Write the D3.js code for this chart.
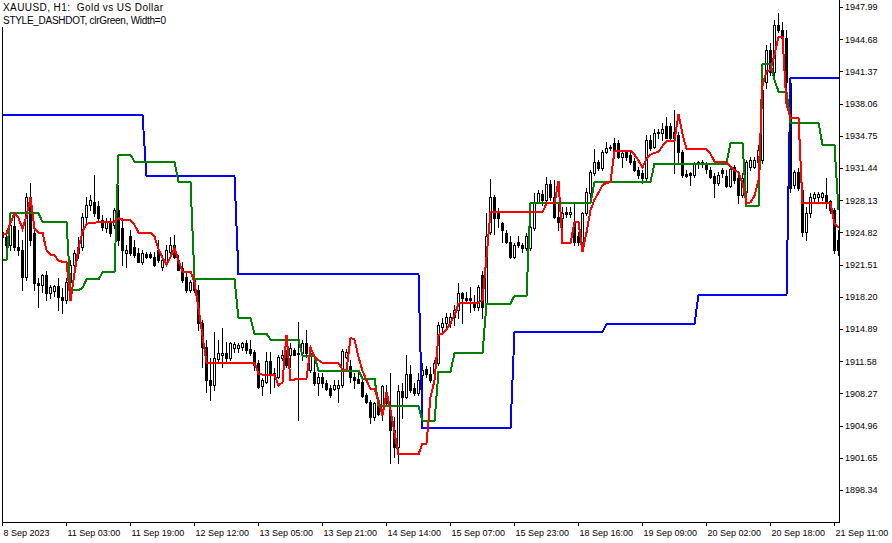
<!DOCTYPE html>
<html><head><meta charset="utf-8">
<script src="https://cdn.jsdelivr.net/npm/d3@7"></script>
<style>html,body{margin:0;padding:0;background:#fff;overflow:hidden}svg{display:block}</style>
</head><body>
<svg id="chart" width="892" height="543"></svg>
<script>
// ---------- data ----------
const titleLines = ["XAUUSD, H1:  Gold vs US Dollar", "STYLE_DASHDOT, clrGreen, Width=0"];
const priceTicks = [1947.99,1944.68,1941.37,1938.06,1934.75,1931.44,1928.13,1924.82,1921.51,1918.20,1914.89,1911.58,1908.27,1904.96,1901.65,1898.34];
const timeTickIndex = [0,16,32,48,64,80,96,112,128,144,160,176,192,208];
const timeTickLabels = ["8 Sep 2023","11 Sep 03:00","11 Sep 19:00","12 Sep 12:00","13 Sep 05:00","13 Sep 21:00","14 Sep 14:00","15 Sep 07:00","15 Sep 23:00","18 Sep 16:00","19 Sep 09:00","20 Sep 02:00","20 Sep 18:00","21 Sep 11:00"];

const open = [
1924.9,1924.3,1923.5,1925.5,1923.3,1923.0,1920.2,1928.5,1924.8,1919.6,
1919.4,1920.4,1918.6,1918.8,1919.3,1918.2,1917.9,1919.7,1921.5,1922.7,
1923.3,1926.4,1927.6,1927.9,1927.5,1926.1,1925.3,1925.9,1925.6,1927.1,
1925.3,1922.7,1924.4,1923.3,1922.7,1921.8,1922.6,1922.6,1922.3,1923.0,
1921.3,1921.8,1922.8,1923.5,1922.0,1921.2,1920.2,1918.9,1919.9,1918.9,
1915.5,1913.0,1909.6,1909.1,1911.8,1912.2,1912.4,1911.9,1912.9,1912.9,
1913.0,1913.4,1912.8,1912.5,1911.4,1909.0,1909.4,1911.6,1910.4,1910.0,
1911.9,1912.0,1912.2,1912.7,1912.4,1912.4,1913.4,1910.7,1910.5,1909.3,
1910.0,1909.3,1908.8,1908.7,1908.8,1909.1,1912.0,1911.1,1910.0,1909.7,
1909.4,1908.1,1907.4,1905.8,1907.3,1906.3,1908.1,1906.6,1904.5,1902.8,
1908.5,1907.9,1910.3,1908.8,1908.3,1910.2,1910.8,1910.3,1910.4,1911.4,
1915.1,1915.5,1915.5,1916.1,1916.8,1918.6,1918.1,1918.1,1917.6,1917.1,
1920.4,1917.6,1924.9,1928.5,1926.9,1925.8,1924.8,1923.8,1922.3,1923.8,
1923.5,1923.2,1923.2,1925.3,1927.9,1928.8,1928.2,1929.8,1928.5,1926.4,
1926.3,1926.9,1926.7,1925.9,1924.5,1923.8,1926.8,1928.9,1930.9,1932.1,
1931.4,1933.1,1933.5,1934.0,1934.0,1932.6,1933.1,1932.8,1932.2,1931.2,
1930.9,1930.4,1934.3,1933.6,1935.0,1935.0,1935.8,1935.8,1935.1,1934.8,
1933.1,1930.8,1930.9,1930.7,1932.0,1932.1,1931.9,1931.2,1930.6,1929.9,
1931.2,1930.6,1929.6,1931.5,1930.4,1928.7,1929.0,1931.5,1931.5,1932.1,
1932.3,1940.3,1943.6,1941.3,1946.1,1945.6,1944.8,1940.2,1929.7,1931.0,
1929.2,1924.9,1926.8,1928.4,1928.5,1928.5,1928.7,1928.0,1927.1,1924.0];
const high = [
1925.3,1925.1,1926.3,1926.6,1925.1,1924.0,1928.9,1929.9,1925.3,1920.1,
1920.5,1920.9,1919.4,1919.4,1920.1,1919.1,1920.1,1922.0,1923.0,1924.3,
1926.8,1928.5,1928.7,1930.7,1928.0,1926.6,1926.3,1926.3,1927.3,1929.7,
1926.3,1923.5,1925.1,1924.0,1923.2,1923.0,1922.8,1922.8,1922.8,1924.0,
1922.5,1923.5,1924.3,1924.6,1922.5,1921.8,1920.9,1919.9,1920.1,1919.4,
1915.8,1913.8,1911.9,1914.6,1913.8,1915.0,1913.6,1913.6,1913.6,1913.5,
1913.6,1913.8,1913.8,1912.7,1911.7,1909.9,1912.5,1912.5,1910.9,1912.2,
1912.7,1912.7,1913.4,1912.9,1915.6,1913.8,1914.8,1913.1,1911.7,1910.4,
1910.4,1909.6,1909.1,1909.6,1909.6,1912.8,1912.8,1911.7,1910.4,1910.4,
1909.6,1908.3,1907.6,1907.4,1907.6,1909.1,1909.1,1910.4,1905.8,1909.1,
1909.3,1912.2,1911.2,1909.3,1910.4,1911.4,1911.1,1911.0,1911.7,1915.6,
1916.0,1916.5,1916.5,1917.4,1919.6,1918.7,1918.7,1919.2,1918.4,1919.4,
1920.9,1926.8,1930.3,1928.7,1927.3,1925.9,1925.1,1924.5,1923.7,1924.5,
1923.7,1924.8,1925.6,1928.9,1929.2,1929.2,1930.5,1930.2,1930.2,1927.8,
1927.4,1927.4,1927.4,1927.9,1924.9,1926.9,1929.4,1931.2,1933.4,1932.3,
1933.3,1934.1,1933.8,1934.5,1934.3,1933.3,1933.3,1933.1,1932.5,1931.5,
1931.2,1934.8,1934.8,1935.5,1935.5,1936.1,1936.7,1936.1,1937.4,1935.1,
1933.3,1931.2,1931.0,1932.1,1932.2,1932.3,1932.1,1931.5,1930.9,1931.0,
1931.4,1931.2,1931.5,1931.7,1930.7,1930.9,1932.3,1932.6,1932.6,1933.8,
1940.5,1944.1,1944.3,1946.7,1947.4,1946.4,1945.6,1940.5,1931.2,1931.4,
1929.4,1927.4,1928.9,1929.0,1929.0,1929.0,1930.4,1928.2,1927.3,1925.1];
const low = [
1923.8,1922.5,1923.0,1923.0,1922.5,1918.9,1919.9,1923.5,1918.9,1917.1,
1918.7,1917.9,1918.1,1918.3,1916.8,1916.5,1917.6,1918.1,1921.3,1922.2,
1923.0,1925.9,1927.1,1926.5,1925.9,1925.1,1924.9,1924.4,1925.3,1923.5,
1921.5,1921.3,1922.5,1922.3,1921.8,1921.6,1922.2,1922.2,1921.4,1921.8,
1921.0,1921.5,1922.5,1922.2,1921.0,1919.7,1918.7,1918.7,1918.7,1914.8,
1911.0,1908.4,1907.6,1908.6,1911.5,1911.0,1911.5,1911.7,1912.5,1912.5,
1912.7,1912.4,1912.2,1910.7,1908.8,1908.1,1909.3,1908.3,1908.9,1909.9,
1911.7,1911.0,1911.0,1912.2,1905.5,1911.7,1912.0,1910.5,1909.1,1908.1,
1908.9,1908.6,1907.9,1908.6,1907.4,1908.9,1911.9,1909.4,1908.8,1909.3,
1907.9,1907.3,1905.2,1905.5,1906.0,1905.5,1907.1,1901.1,1901.7,1901.1,
1905.7,1907.8,1908.4,1908.1,1908.1,1908.6,1910.0,1909.4,1910.2,1911.2,
1914.5,1914.8,1915.1,1915.3,1916.0,1915.5,1917.6,1916.6,1916.8,1916.8,
1916.0,1917.4,1924.7,1924.7,1925.4,1923.8,1923.7,1922.2,1922.2,1923.3,
1922.8,1923.0,1923.0,1925.1,1927.8,1927.6,1927.8,1928.2,1926.3,1925.1,
1925.4,1926.4,1926.4,1923.5,1923.5,1923.7,1926.6,1928.5,1930.7,1931.2,
1931.2,1933.0,1933.3,1933.0,1932.5,1931.5,1932.3,1931.9,1931.1,1930.4,
1929.9,1930.2,1933.3,1933.5,1934.5,1934.3,1934.5,1934.3,1930.9,1932.0,
1930.5,1930.5,1929.7,1930.5,1931.4,1931.5,1930.9,1930.4,1928.5,1929.7,
1930.5,1929.5,1929.5,1929.9,1927.8,1928.5,1928.9,1931.2,1931.4,1931.7,
1932.0,1939.7,1941.0,1941.0,1945.4,1944.1,1939.5,1929.0,1929.4,1929.2,
1924.5,1924.0,1926.4,1927.9,1927.9,1928.2,1927.3,1926.8,1922.7,1922.5];
const close = [
1924.3,1923.5,1925.6,1923.3,1923.0,1920.2,1928.5,1924.0,1919.6,1919.4,
1920.4,1918.6,1919.2,1919.3,1918.2,1917.9,1919.7,1921.5,1922.7,1923.3,
1926.4,1927.6,1928.2,1926.8,1926.3,1925.4,1925.9,1924.8,1927.1,1924.0,
1923.0,1923.0,1922.7,1922.5,1921.8,1922.7,1922.3,1922.3,1921.5,1922.0,
1922.0,1923.0,1923.5,1922.3,1921.0,1919.9,1918.9,1919.7,1918.9,1915.5,
1913.0,1909.6,1909.1,1911.9,1912.4,1912.4,1911.9,1913.4,1913.3,1913.2,
1913.4,1912.7,1912.4,1911.2,1908.9,1909.6,1911.6,1910.2,1910.2,1912.0,
1912.2,1911.2,1912.9,1912.2,1912.3,1913.4,1912.4,1912.4,1909.3,1910.0,
1909.3,1908.7,1908.1,1909.1,1909.1,1912.6,1912.5,1910.0,1909.6,1909.3,
1908.0,1907.4,1905.8,1907.3,1906.2,1909.0,1907.3,1904.5,1902.8,1908.5,
1907.9,1910.3,1908.6,1908.3,1909.6,1910.7,1910.3,1909.6,1911.4,1915.3,
1915.5,1916.1,1916.1,1916.8,1918.6,1918.1,1917.9,1917.9,1917.1,1919.2,
1917.1,1924.5,1928.5,1926.3,1926.3,1925.1,1923.8,1922.3,1923.5,1923.5,
1923.2,1924.5,1925.4,1927.9,1928.9,1928.2,1929.8,1928.5,1926.4,1925.9,
1926.8,1926.7,1926.9,1923.8,1923.8,1926.8,1929.0,1931.0,1932.1,1931.4,
1933.1,1933.5,1933.6,1933.3,1932.6,1933.0,1932.6,1932.1,1931.2,1930.7,
1930.4,1934.3,1933.5,1935.0,1935.1,1935.4,1934.5,1934.5,1934.5,1933.1,
1930.7,1930.6,1930.7,1932.0,1932.1,1931.8,1931.3,1930.5,1929.9,1930.7,
1930.9,1929.6,1931.3,1930.2,1928.7,1930.4,1932.1,1932.3,1932.3,1933.3,
1939.5,1943.6,1941.3,1946.1,1945.6,1944.8,1940.3,1929.4,1931.0,1929.4,
1924.9,1926.8,1928.5,1928.8,1928.8,1928.9,1928.0,1927.1,1923.0,1923.0];

const blueLine = [
1936.9,1936.9,1936.9,1936.9,1936.9,1936.9,1936.9,1936.9,1936.9,1936.9,
1936.9,1936.9,1936.9,1936.9,1936.9,1936.9,1936.9,1936.9,1936.9,1936.9,
1936.9,1936.9,1936.9,1936.9,1936.9,1936.9,1936.9,1936.9,1936.9,1936.9,
1936.9,1936.9,1936.9,1936.9,1936.9,1936.9,1930.6,1930.6,1930.6,1930.6,
1930.6,1930.6,1930.6,1930.6,1930.6,1930.6,1930.6,1930.6,1930.6,1930.6,
1930.6,1930.6,1930.6,1930.6,1930.6,1930.6,1930.6,1930.6,1930.6,1920.5,
1920.5,1920.5,1920.5,1920.5,1920.5,1920.5,1920.5,1920.5,1920.5,1920.5,
1920.5,1920.5,1920.5,1920.5,1920.5,1920.5,1920.5,1920.5,1920.5,1920.5,
1920.5,1920.5,1920.5,1920.5,1920.5,1920.5,1920.5,1920.5,1920.5,1920.5,
1920.5,1920.5,1920.5,1920.5,1920.5,1920.5,1920.5,1920.5,1920.5,1920.5,
1920.5,1920.5,1920.5,1920.5,1920.5,1904.7,1904.7,1904.7,1904.7,1904.7,
1904.7,1904.7,1904.7,1904.7,1904.7,1904.7,1904.7,1904.7,1904.7,1904.7,
1904.7,1904.7,1904.7,1904.7,1904.7,1904.7,1904.7,1904.7,1914.6,1914.6,
1914.6,1914.6,1914.6,1914.6,1914.6,1914.6,1914.6,1914.6,1914.6,1914.6,
1914.6,1914.6,1914.6,1914.6,1914.6,1914.6,1914.6,1914.6,1914.6,1914.6,
1914.6,1915.4,1915.4,1915.4,1915.4,1915.4,1915.4,1915.4,1915.4,1915.4,
1915.4,1915.4,1915.4,1915.4,1915.4,1915.4,1915.4,1915.4,1915.4,1915.4,
1915.4,1915.4,1915.4,1915.4,1918.4,1918.4,1918.4,1918.4,1918.4,1918.4,
1918.4,1918.4,1918.4,1918.4,1918.4,1918.4,1918.4,1918.4,1918.4,1918.4,
1918.4,1918.4,1918.4,1918.4,1918.4,1918.4,1918.4,1940.7,1940.7,1940.7,
1940.7,1940.7,1940.7,1940.7,1940.7,1940.7,1940.7,1940.7,1940.7,1940.7];

const greenLine = [
1922.0,1922.0,1926.8,1926.8,1926.8,1926.8,1926.8,1926.8,1926.8,1926.8,
1925.9,1925.9,1925.9,1925.9,1925.9,1925.9,1925.9,1918.9,1918.9,1918.9,
1919.1,1920.0,1920.0,1920.0,1920.0,1920.7,1920.7,1920.7,1920.7,1932.8,
1932.8,1932.8,1932.8,1932.1,1932.1,1932.1,1932.1,1932.1,1932.1,1932.1,
1932.1,1932.1,1932.1,1932.1,1930.0,1930.0,1930.0,1930.0,1920.0,1920.0,
1920.0,1920.0,1920.0,1920.0,1920.0,1920.0,1920.0,1920.0,1920.0,1916.0,
1916.0,1916.0,1916.0,1914.4,1914.4,1914.4,1914.4,1913.8,1913.8,1913.8,
1913.8,1913.8,1913.8,1913.8,1913.8,1912.1,1912.1,1912.1,1912.1,1910.6,
1910.6,1910.6,1910.6,1910.6,1910.6,1910.6,1910.6,1910.6,1910.6,1910.6,
1909.8,1909.8,1909.8,1909.8,1907.0,1907.0,1907.0,1907.0,1907.0,1907.0,
1907.0,1907.0,1907.0,1907.0,1907.0,1905.4,1905.4,1905.4,1905.4,1910.5,
1910.5,1910.5,1910.5,1912.4,1912.4,1912.4,1912.4,1912.4,1912.4,1912.4,
1912.4,1917.5,1917.5,1917.5,1917.5,1917.5,1917.5,1917.5,1918.3,1918.3,
1918.3,1918.3,1927.8,1927.8,1927.8,1927.8,1927.8,1927.8,1927.8,1927.8,
1927.8,1927.8,1927.8,1927.8,1927.8,1927.8,1927.8,1927.8,1930.0,1930.0,
1930.0,1930.0,1930.0,1930.0,1930.0,1930.0,1930.0,1930.0,1930.0,1930.0,
1930.0,1930.0,1930.0,1931.9,1931.9,1931.9,1931.9,1931.9,1931.9,1931.9,
1931.9,1931.9,1931.9,1931.9,1931.9,1931.9,1931.9,1931.9,1931.9,1931.9,
1931.9,1931.9,1934.0,1934.0,1934.0,1934.0,1927.5,1927.5,1927.5,1927.5,
1942.1,1942.1,1942.1,1940.5,1939.3,1939.3,1939.3,1936.1,1936.1,1936.1,
1936.1,1936.1,1936.1,1936.1,1936.1,1933.8,1933.8,1933.8,1933.8,1927.1];

const redLine = [
1924.7,1924.7,1925.8,1926.8,1926.3,1925.2,1926.5,1928.4,1925.2,1924.8,
1924.8,1923.0,1922.5,1922.5,1921.9,1921.8,1921.8,1917.8,1920.6,1923.2,
1924.9,1925.7,1925.8,1925.8,1925.9,1925.9,1925.9,1925.9,1925.9,1926.3,
1926.1,1926.1,1926.1,1925.6,1924.8,1924.8,1924.8,1924.8,1924.4,1923.1,
1922.2,1921.5,1922.3,1923.2,1921.9,1920.8,1920.8,1920.8,1919.7,1917.0,
1914.2,1911.4,1911.4,1911.4,1911.4,1911.4,1911.4,1911.4,1911.4,1911.4,
1911.4,1911.4,1911.4,1911.4,1910.3,1910.2,1910.2,1910.2,1910.2,1909.1,
1909.4,1914.3,1909.6,1909.7,1909.8,1909.8,1909.8,1913.0,1912.0,1911.7,
1911.4,1911.4,1911.4,1911.4,1911.4,1910.7,1910.7,1914.0,1913.8,1912.0,
1910.6,1909.6,1908.7,1908.7,1907.6,1906.0,1908.4,1906.6,1904.2,1902.0,
1902.0,1902.0,1902.0,1902.0,1902.0,1903.1,1903.1,1907.9,1909.6,1914.3,
1914.4,1914.8,1915.5,1916.3,1917.5,1917.6,1917.6,1917.6,1917.6,1917.6,
1917.9,1922.3,1926.9,1926.9,1926.9,1926.9,1926.9,1926.9,1926.9,1926.9,
1926.9,1926.9,1926.9,1926.9,1926.9,1926.9,1927.8,1927.8,1927.8,1930.1,
1923.7,1923.7,1923.7,1925.9,1925.9,1922.8,1924.8,1927.1,1928.2,1928.9,
1929.7,1929.9,1930.0,1933.2,1933.2,1933.2,1933.2,1933.2,1932.8,1932.2,
1931.5,1932.4,1932.8,1933.0,1933.1,1933.7,1934.2,1934.2,1934.2,1937.0,
1934.9,1933.4,1933.4,1933.4,1933.4,1933.4,1933.4,1932.9,1932.1,1932.1,
1932.1,1932.0,1931.6,1931.2,1931.0,1929.9,1927.8,1927.9,1928.6,1930.2,
1939.9,1941.4,1941.5,1943.1,1944.9,1944.9,1938.0,1936.6,1936.6,1936.6,
1927.8,1927.8,1927.8,1927.8,1927.8,1927.8,1927.8,1927.8,1925.7,1925.3];

// ---------- drawing ----------
const svg = d3.select("#chart");
const W = 892, H = 543;
const plot = {left: 2, right: 839, top: 0, bottom: 522};
const n = open.length;

const x = d3.scaleLinear().domain([0, n - 1]).range([2, 838]);
const y = d3.scaleLinear().domain([1895.05, 1948.71]).range([plot.bottom, 0]);

svg.append("rect").attr("width", W).attr("height", H).attr("fill", "#fff");

svg.append("defs").append("clipPath").attr("id", "clip")
  .append("rect").attr("x", 3).attr("y", 0).attr("width", plot.right - 3).attr("height", plot.bottom);

const g = svg.append("g").attr("clip-path", "url(#clip)").attr("shape-rendering", "crispEdges");

const idx = d3.range(n);
// wicks
g.selectAll("rect.wick").data(idx).join("rect").attr("class", "wick")
  .attr("x", i => Math.round(x(i)))
  .attr("y", i => Math.round(y(high[i])))
  .attr("width", 1)
  .attr("height", i => Math.max(1, Math.round(y(low[i])) - Math.round(y(high[i])) + 1))
  .attr("fill", "#000");
// bodies
g.selectAll("rect.body").data(idx).join("rect").attr("class", "body")
  .attr("x", i => Math.round(x(i)) - 1)
  .attr("y", i => Math.round(y(Math.max(open[i], close[i]))))
  .attr("width", 3)
  .attr("height", i => Math.max(1, Math.round(y(Math.min(open[i], close[i]))) - Math.round(y(Math.max(open[i], close[i]))) + 1))
  .attr("fill", "#000");
// hollow interior of bullish bodies
const bull = idx.filter(i => close[i] > open[i] && (Math.round(y(open[i])) - Math.round(y(close[i]))) >= 2);
g.selectAll("rect.hollow").data(bull).join("rect").attr("class", "hollow")
  .attr("x", i => Math.round(x(i)))
  .attr("y", i => Math.round(y(close[i])) + 1)
  .attr("width", 1)
  .attr("height", i => Math.round(y(open[i])) - Math.round(y(close[i])) - 1)
  .attr("fill", "#fff");

// indicator lines
const line = d3.line().x((d, i) => x(i) + 0.5).y(d => y(d));
[[blueLine, "#0000ff"], [greenLine, "#008000"], [redLine, "#ff0000"]].forEach(([arr, col]) => {
  g.append("path").datum(arr).attr("d", line)
    .attr("fill", "none").attr("stroke", col).attr("stroke-width", 2)
    .attr("stroke-linejoin", "miter");
});

// frame
const frame = svg.append("g").attr("shape-rendering", "crispEdges").attr("stroke", "#000").attr("stroke-width", 1);
frame.append("line").attr("x1", 2.5).attr("x2", 2.5).attr("y1", 0).attr("y2", 522);
frame.append("line").attr("x1", 2).attr("x2", 840).attr("y1", 522.5).attr("y2", 522.5);
frame.append("line").attr("x1", 839.5).attr("x2", 839.5).attr("y1", 0).attr("y2", 523);

const font = "'Liberation Sans', Arial, sans-serif";

// price axis
const yAxis = d3.axisRight(y).tickValues(priceTicks).tickFormat(d3.format(".2f")).tickSizeInner(4).tickSizeOuter(0).tickPadding(2);
const ya = svg.append("g").attr("transform", "translate(839,0)").call(yAxis);
ya.select(".domain").remove();
ya.selectAll("text").attr("font-family", font).attr("font-size", 9).attr("fill", "#000");
ya.selectAll("line").attr("shape-rendering", "crispEdges");

// time axis
const xAxis = d3.axisBottom(x).tickValues(timeTickIndex).tickFormat((d, i) => timeTickLabels[i]).tickSizeInner(4).tickSizeOuter(0).tickPadding(4);
const xa = svg.append("g").attr("transform", "translate(0,522)").call(xAxis);
xa.select(".domain").remove();
xa.selectAll("text").attr("font-family", font).attr("font-size", 9).attr("fill", "#000")
  .attr("text-anchor", "start").attr("dx", 1);
xa.selectAll("line").attr("shape-rendering", "crispEdges");

// title block
svg.append("rect").attr("x", 0).attr("y", 0).attr("width", 172).attr("height", 27).attr("fill", "#fff");
const tl = [[11, 160], [23.5, 163]];
titleLines.forEach((t, k) => {
  svg.append("text").attr("x", 3).attr("y", tl[k][0])
    .attr("font-family", font).attr("font-size", 10).attr("fill", "#000")
    .style("white-space", "pre")
    .attr("textLength", tl[k][1]).attr("lengthAdjust", "spacing")
    .text(t);
});
</script>
</body></html>
